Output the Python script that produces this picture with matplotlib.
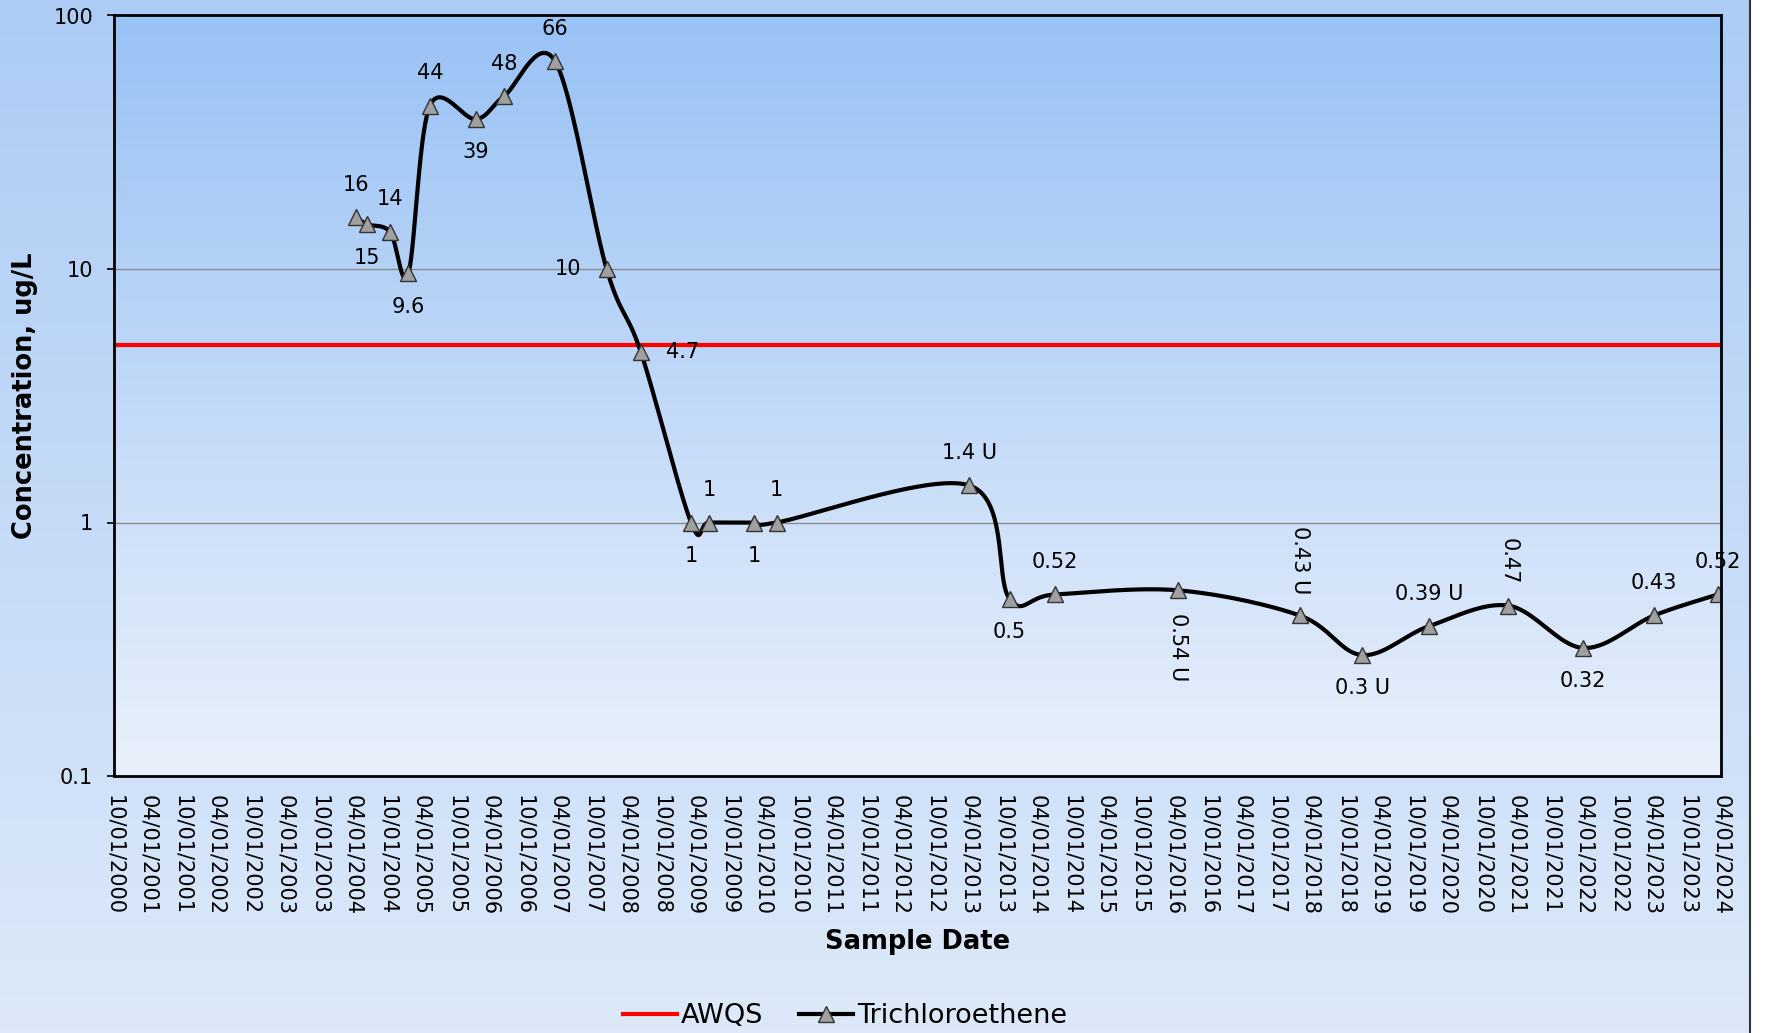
import numpy as np
import matplotlib
matplotlib.use("Agg")
import matplotlib.pyplot as plt
import matplotlib.dates as mdates
from matplotlib.lines import Line2D
from datetime import datetime

plt.rcParams['font.family'] = ['DejaVu Sans']

# Data
sample_dates = ["2004-04-15", "2004-06-15", "2004-10-15", "2005-01-20", "2005-05-15",
                "2006-01-15", "2006-06-15", "2007-03-15", "2007-12-15", "2008-06-15",
                "2009-03-10", "2009-06-15", "2010-02-10", "2010-06-10", "2013-04-05",
                "2013-11-05", "2014-07-05", "2016-04-25", "2018-02-01", "2019-01-01",
                "2019-12-25", "2021-02-20", "2022-03-25", "2023-04-10", "2024-03-15"]
tce = [16, 15, 14, 9.6, 44, 39, 48, 66, 10, 4.7, 1, 1, 1, 1, 1.4,
       0.5, 0.52, 0.54, 0.43, 0.3, 0.39, 0.47, 0.32, 0.43, 0.52]
tce_labels = ["16", "15", "14", "9.6", "44", "39", "48", "66", "10", "4.7", "1", "1", "1", "1",
              "1.4 U", "0.5", "0.52", "0.54 U", "0.43 U", "0.3 U", "0.39 U", "0.47", "0.32",
              "0.43", "0.52"]
label_place = ["above", "below", "above", "below", "above", "below", "above", "above", "left",
               "right", "below", "above", "below", "above", "above", "below", "above",
               "rot_below", "rot_above", "below", "above", "rot_above", "below", "above", "above"]
awqs = 5
x_start, x_end = "2000-10-01", "2024-04-01"


def smooth(x, y, n=40):
    # Excel-like smoothed line: cubic Bezier segments, Catmull-Rom control points
    P = np.column_stack([x, y])
    out = []
    for i in range(len(P) - 1):
        p0 = P[i - 1] if i > 0 else P[i]
        p3 = P[i + 2] if i + 2 < len(P) else P[i + 1]
        c1 = P[i] + (P[i + 1] - p0) / 6
        c2 = P[i + 1] - (p3 - P[i]) / 6
        t = np.linspace(0, 1, n)[:, None]
        seg = (1 - t)**3 * P[i] + 3 * (1 - t)**2 * t * c1 + 3 * (1 - t) * t**2 * c2 + t**3 * P[i + 1]
        out.append(seg if i == 0 else seg[1:])
    return np.vstack(out)


W, H = 1766, 1033
fig = plt.figure(figsize=(W / 100, H / 100), dpi=100)
fig.patch.set_facecolor("white")

# outer chart background gradient
bg = fig.add_axes([0, 0, 1750 / W, 1], zorder=-10)
top_c = np.array([172, 204, 245]) / 255
bot_c = np.array([221, 233, 249]) / 255
g = np.linspace(0, 1, 256)[:, None, None]
bg.imshow(top_c * (1 - g) + bot_c * g, aspect="auto", extent=[0, 1, 0, 1])
bg.axis("off")
fig.add_artist(Line2D([1750 / W, 1750 / W], [0, 1], color="#333333", lw=1.5))

left, right, top, bottom = 114, 1721, 15.5, 776
ax = fig.add_axes([left / W, (H - bottom) / H, (right - left) / W, (bottom - top) / H])
ax.set_facecolor("none")
ptop = np.array([153, 194, 245]) / 255
pbot = np.array([233, 240, 251]) / 255
ax.imshow(ptop * (1 - g) + pbot * g, aspect="auto", extent=[0, 1, 0, 1],
          transform=ax.transAxes, zorder=0)

xd = mdates.date2num([datetime.strptime(d, "%Y-%m-%d") for d in sample_dates])
x0 = mdates.date2num(datetime.strptime(x_start, "%Y-%m-%d"))
x1 = mdates.date2num(datetime.strptime(x_end, "%Y-%m-%d"))

ax.set_yscale("log")
ax.set_ylim(0.1, 100)
ax.set_xlim(x0, x1)

for gy in [1, 10]:
    ax.axhline(gy, color="#8c8c8c", lw=1, zorder=1)

awqs_line = ax.axhline(awqs, color="#ff0000", lw=3, zorder=2, label="AWQS")

curve = smooth(xd, np.log10(tce))
ax.plot(curve[:, 0], 10**curve[:, 1], color="black", lw=3, zorder=3, solid_capstyle="round")
ax.plot(xd, tce, linestyle="none", marker="^", markersize=12, markerfacecolor="#a0a0a0",
        markeredgecolor="#333333", markeredgewidth=1, zorder=4)
tce_handle = Line2D([], [], color="black", lw=3, marker="^", markersize=12,
                    markerfacecolor="#a0a0a0", markeredgecolor="#333333", label="Trichloroethene")

offsets = {"above": (0, 23.5, 0, "center", "center"),
           "below": (0, -24, 0, "center", "center"),
           "left": (-28, 0, 0, "center", "center"),
           "right": (30, 0, 0, "center", "center"),
           "rot_above": (0, 15, -90, "center", "bottom"),
           "rot_below": (0, -16, -90, "center", "top")}
for xi, yi, lab, pl in zip(xd, tce, tce_labels, label_place):
    dx, dy, rot, ha, va = offsets[pl]
    ax.annotate(lab, (xi, yi), xytext=(dx, dy), textcoords="offset points",
                ha=ha, va=va, rotation=rot, fontsize=15, zorder=5)

# x ticks every six months (April / October)
ticks = []
for yr in range(2000, 2025):
    for mo in (4, 10):
        d = datetime(yr, mo, 1)
        if datetime(2000, 10, 1) <= d <= datetime(2024, 4, 1):
            ticks.append(d)
ax.set_xticks(mdates.date2num(ticks))
ax.xaxis.set_major_formatter(mdates.DateFormatter("%m/%d/%Y"))
ax.tick_params(axis="x", rotation=-90, labelsize=15, length=0, pad=14)
ax.set_yticks([0.1, 1, 10, 100])
ax.set_yticklabels(["0.1", "1", "10", "100"])
ax.yaxis.set_minor_locator(matplotlib.ticker.NullLocator())
ax.tick_params(axis="y", labelsize=15, length=5, width=1.2, direction="out", pad=10)
for lab in ax.get_xticklabels():
    lab.set_va("top")
    lab.set_ha("center")

for s in ax.spines.values():
    s.set_color("black")
    s.set_linewidth(2)
    s.set_zorder(6)

fig.text(25 / W, 1 - (top + bottom) / 2 / H, "Concentration, ug/L", fontsize=18.5,
         fontweight="bold", rotation=90, ha="center", va="center")
fig.text((left + right) / 2 / W, 1 - 942 / H, "Sample Date", fontsize=18.5,
         fontweight="bold", ha="center", va="center")

fig.legend(handles=[awqs_line, tce_handle], loc="center", bbox_to_anchor=(845 / W, 1 - 1016 / H),
           ncol=2, frameon=False, fontsize=19.5, handlelength=2.0, handletextpad=0.15,
           columnspacing=1.3, numpoints=1)

fig.savefig("out.png", dpi=100, facecolor=fig.get_facecolor())
